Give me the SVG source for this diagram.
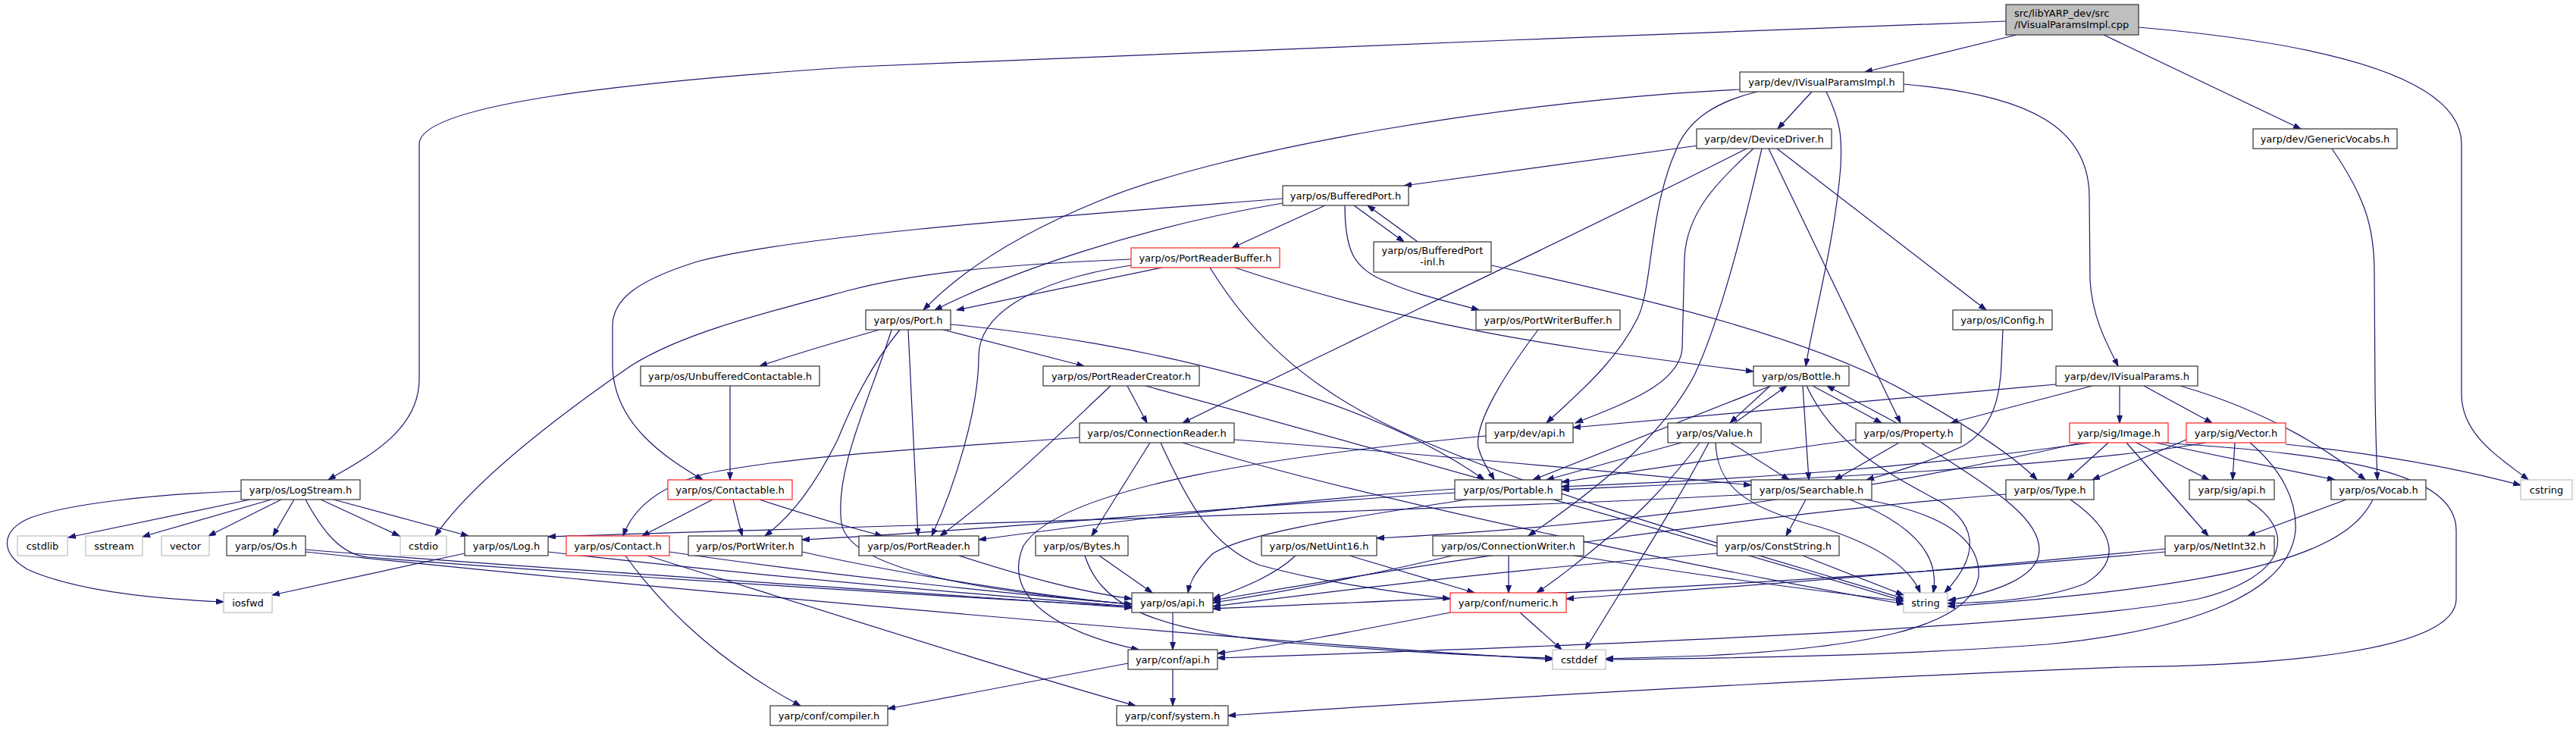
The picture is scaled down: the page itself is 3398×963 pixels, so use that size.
<svg xmlns="http://www.w3.org/2000/svg" width="3398" height="963" viewBox="0 0 3398 963">
<style>
.n rect{fill:#fff;stroke:#333;stroke-width:1.2}
.n.red rect{stroke:#ff2020}
.n.sys rect{stroke:#bfbfbf}
.n.root rect{fill:#bfbfbf}
.n text{font-family:"DejaVu Sans","Liberation Sans",sans-serif;font-size:13px;fill:#000;text-anchor:middle}
.n.root text{text-anchor:start}
#edges path{fill:none;stroke:#191970;stroke-width:1.2;marker-end:url(#ah)}
</style>
<defs>
<marker id="ah" markerUnits="userSpaceOnUse" markerWidth="11" markerHeight="8" refX="10" refY="3.5" orient="auto">
<path d="M0,0 L10,3.5 L0,7 z" fill="#191970" stroke="#191970" stroke-width="1"/>
</marker>
</defs>
<rect width="3398" height="963" fill="#fff"/>
<g id="edges">
<path d="M2660,46 L2460,95"/>
<path d="M2646,28 C2200,45 1400,75 1130,88 C800,110 553,140 553,190 L553,500 C553,570 480,605 433,633"/>
<path d="M2775,46 L3035,170"/>
<path d="M2821,36 C3100,60 3247,110 3247,190 L3247,520 C3247,575 3300,605 3335,633"/>
<path d="M2390,121 L2345,170"/>
<path d="M2409,121 C2428,160 2430,180 2428,220 C2420,320 2392,420 2382,483"/>
<path d="M2511,111 C2680,125 2756,170 2756,260 L2757,370 C2760,420 2780,455 2794,483"/>
<path d="M2295,118 C2000,132 1620,195 1450,265 C1340,310 1265,360 1218,409"/>
<path d="M2318,121 C2260,135 2225,160 2210,200 C2175,280 2180,380 2160,420 C2130,480 2080,520 2040,558"/>
<path d="M2240,192 L1852,245"/>
<path d="M2304,196 C2100,300 1800,440 1560,558"/>
<path d="M2313,196 C2265,240 2225,280 2222,340 L2219,460 C2215,505 2150,530 2078,558"/>
<path d="M2324,196 C2300,300 2270,420 2235,495 C2190,580 2100,650 2016,707"/>
<path d="M2333,196 L2507,558"/>
<path d="M2344,196 L2620,409"/>
<path d="M3076,196 C3120,260 3132,300 3132,360 L3133,520 C3134,580 3135,610 3136,633"/>
<path d="M1786,271 L1852,319"/>
<path d="M1870,319 L1804,271"/>
<path d="M1748,271 L1625,327"/>
<path d="M1692,268 C1500,300 1330,360 1233,409"/>
<path d="M1692,262 C1400,285 1050,310 920,345 C840,370 808,395 808,430 L808,480 C808,560 880,605 927,633"/>
<path d="M1774,271 C1774,330 1785,355 1830,372 C1870,390 1920,400 1951,409"/>
<path d="M1967,350 C2200,400 2400,450 2520,520 C2610,570 2660,605 2687,633"/>
<path d="M1533,353 L1262,409"/>
<path d="M1492,342 C1300,350 1200,362 1120,383 C1000,415 900,440 833,482 C720,560 620,640 574,707"/>
<path d="M1492,350 C1350,372 1291,420 1291,470 C1291,540 1260,640 1229,707"/>
<path d="M1596,353 C1650,440 1720,510 1850,570 C2050,660 2350,740 2512,790"/>
<path d="M1629,353 C1800,410 1950,440 2100,462 C2200,476 2260,484 2313,490"/>
<path d="M1160,435 C1100,452 1040,470 1002,483"/>
<path d="M1244,435 L1430,483"/>
<path d="M1254,428 C1500,450 1800,520 1958,633"/>
<path d="M1187,435 C1150,480 1125,530 1105,580 C1075,640 1045,680 1009,707"/>
<path d="M1198,435 L1211,707"/>
<path d="M1176,435 C1150,520 1100,620 1110,690 C1120,760 1350,785 1493,797"/>
<path d="M963,509 L963,633"/>
<path d="M1465,509 C1400,570 1330,640 1240,707"/>
<path d="M1487,509 L1513,558"/>
<path d="M1511,509 C1700,560 2200,700 2512,793"/>
<path d="M1424,577 C1250,590 1050,600 930,625 C870,642 835,670 822,707"/>
<path d="M1517,584 L1440,707"/>
<path d="M1531,584 C1570,670 1600,720 1660,745 C1750,770 1850,782 1913,790"/>
<path d="M1628,580 C1900,600 2150,625 2310,640"/>
<path d="M1560,584 C1800,660 2300,760 2512,797"/>
<path d="M1960,575 C1700,600 1400,640 1350,720 C1320,790 1400,835 1502,857"/>
<path d="M2335,509 L2282,558"/>
<path d="M2288,558 L2357,509"/>
<path d="M2378,509 L2386,633"/>
<path d="M2391,509 L2482,558"/>
<path d="M2502,558 L2410,509"/>
<path d="M2383,509 C2420,590 2500,630 2560,662 C2620,700 2600,745 2565,782"/>
<path d="M2336,509 L2022,633"/>
<path d="M2283,584 L2360,633"/>
<path d="M2263,584 C2265,640 2300,670 2400,695 C2480,720 2520,750 2533,782"/>
<path d="M2254,584 C2220,650 2150,760 2091,857"/>
<path d="M2218,584 L2040,633"/>
<path d="M2242,584 C2200,640 2150,690 2120,710 C2090,735 2060,760 2027,782"/>
<path d="M2029,435 C1980,500 1945,560 1950,590 C1955,610 1965,622 1971,633"/>
<path d="M2642,435 L2640,480 C2638,540 2620,570 2590,588 C2540,612 2490,625 2462,633"/>
<path d="M2505,584 L2420,633"/>
<path d="M2534,584 C2620,640 2690,680 2690,725 C2690,762 2630,782 2570,792"/>
<path d="M2448,580 C2300,600 2200,615 2060,636"/>
<path d="M2712,507 L2075,564"/>
<path d="M2760,509 L2573,558"/>
<path d="M2796,509 L2796,558"/>
<path d="M2828,509 L2918,558"/>
<path d="M2876,509 C3000,545 3080,600 3120,633"/>
<path d="M2781,584 L2727,633"/>
<path d="M2818,584 L2914,633"/>
<path d="M2805,584 L2913,707"/>
<path d="M2843,584 L3080,633"/>
<path d="M2758,584 C2500,620 2300,632 2060,642"/>
<path d="M2745,584 C2500,640 2200,690 1816,710"/>
<path d="M2852,584 C3100,600 3240,625 3240,700 L3240,790 C3240,860 3000,878 2800,880 C2300,900 1800,932 1620,944"/>
<path d="M2948,584 L2945,633"/>
<path d="M2968,584 C3010,620 3030,660 3028,700 C3020,780 2900,830 2700,850 C2500,865 2300,868 2118,870"/>
<path d="M3015,586 C3150,600 3250,620 3325,640"/>
<path d="M2910,584 C2700,620 2300,635 2060,646"/>
<path d="M2884,580 L2760,633"/>
<path d="M330,659 L90,709"/>
<path d="M358,659 L188,708"/>
<path d="M371,659 L275,707"/>
<path d="M388,659 L360,707"/>
<path d="M423,659 L527,707"/>
<path d="M440,659 L618,707"/>
<path d="M318,648 C200,652 90,665 40,683 C0,700 0,730 36,751 C100,780 200,790 295,794"/>
<path d="M403,659 C425,700 450,732 485,735 C800,760 1300,790 1493,800"/>
<path d="M403,725 C700,750 1200,780 1493,802"/>
<path d="M403,728 C900,780 1700,850 2048,870"/>
<path d="M613,730 L359,785"/>
<path d="M723,728 C1000,760 1300,785 1493,800"/>
<path d="M825,733 C880,810 960,880 1056,931"/>
<path d="M854,733 C1100,810 1350,890 1498,931"/>
<path d="M883,728 C1100,760 1350,785 1493,797"/>
<path d="M940,659 L847,707"/>
<path d="M967,659 L979,707"/>
<path d="M1002,659 C1050,675 1100,690 1164,707"/>
<path d="M2310,652 C2000,670 1300,690 723,708"/>
<path d="M1058,728 C1200,760 1400,790 1493,797"/>
<path d="M1919,645 C1700,660 1450,690 1291,712"/>
<path d="M1919,650 C1600,670 1300,700 1058,712"/>
<path d="M1935,659 C1800,680 1650,700 1600,730 C1580,750 1570,765 1567,782"/>
<path d="M1265,733 C1350,760 1420,780 1493,790"/>
<path d="M1450,733 L1520,782"/>
<path d="M1431,733 C1450,790 1500,830 1700,848 C1850,860 1950,866 2048,868"/>
<path d="M1780,733 L1945,782"/>
<path d="M1709,733 C1680,760 1640,775 1600,790"/>
<path d="M1990,733 L1990,782"/>
<path d="M1916,733 C1800,760 1700,780 1600,795"/>
<path d="M2076,733 C2250,760 2400,780 2511,793"/>
<path d="M2382,659 L2356,707"/>
<path d="M2440,659 C2520,690 2560,730 2550,782"/>
<path d="M2460,659 C2580,680 2612,720 2610,760 C2600,830 2450,855 2250,865 L2118,869"/>
<path d="M2378,733 L2511,785"/>
<path d="M2265,730 C2000,750 1800,775 1600,800"/>
<path d="M2731,659 C2790,700 2800,740 2750,770 C2700,790 2620,795 2569,796"/>
<path d="M2646,652 C2300,680 1900,740 1600,792"/>
<path d="M2964,659 C3030,700 3020,760 2900,790 C2700,830 2000,855 1606,868"/>
<path d="M3095,659 L2965,707"/>
<path d="M3130,659 C3100,720 3000,770 2569,800"/>
<path d="M2856,724 C2500,760 2200,780 2066,790"/>
<path d="M2856,728 C2400,770 1900,790 1600,803"/>
<path d="M1547,808 L1547,857"/>
<path d="M2005,808 L2060,857"/>
<path d="M1913,808 C1800,830 1700,850 1606,862"/>
<path d="M1488,875 L1171,935"/>
<path d="M1547,883 L1547,931"/>
</g>
<g id="n_root" class="n root"><rect x="2646" y="6" width="175" height="40"/><text x="2657" y="22">src/libYARP_dev/src</text><text x="2657" y="37">/IVisualParamsImpl.cpp</text></g>
<g id="n_ivpi" class="n"><rect x="2295" y="95" width="216" height="26"/><text x="2403" y="112.5">yarp/dev/IVisualParamsImpl.h</text></g>
<g id="n_dd" class="n"><rect x="2238" y="170" width="178" height="26"/><text x="2327" y="187.5">yarp/dev/DeviceDriver.h</text></g>
<g id="n_gv" class="n"><rect x="2972" y="170" width="190" height="26"/><text x="3067" y="187.5">yarp/dev/GenericVocabs.h</text></g>
<g id="n_bp" class="n"><rect x="1692" y="245" width="166" height="26"/><text x="1775" y="262.5">yarp/os/BufferedPort.h</text></g>
<g id="n_bpi" class="n"><rect x="1812" y="319" width="155" height="40"/><text x="1889.5" y="335">yarp/os/BufferedPort</text><text x="1889.5" y="350">-inl.h</text></g>
<g id="n_prb" class="n red"><rect x="1492" y="327" width="196" height="26"/><text x="1590" y="344.5">yarp/os/PortReaderBuffer.h</text></g>
<g id="n_port" class="n"><rect x="1142" y="409" width="112" height="26"/><text x="1198" y="426.5">yarp/os/Port.h</text></g>
<g id="n_pwb" class="n"><rect x="1947" y="409" width="190" height="26"/><text x="2042" y="426.5">yarp/os/PortWriterBuffer.h</text></g>
<g id="n_iconfig" class="n"><rect x="2576" y="409" width="131" height="26"/><text x="2641.5" y="426.5">yarp/os/IConfig.h</text></g>
<g id="n_uc" class="n"><rect x="845" y="483" width="236" height="26"/><text x="963" y="500.5">yarp/os/UnbufferedContactable.h</text></g>
<g id="n_prc" class="n"><rect x="1376" y="483" width="206" height="26"/><text x="1479" y="500.5">yarp/os/PortReaderCreator.h</text></g>
<g id="n_bottle" class="n"><rect x="2313" y="483" width="126" height="26"/><text x="2376" y="500.5">yarp/os/Bottle.h</text></g>
<g id="n_ivp" class="n"><rect x="2712" y="483" width="187" height="26"/><text x="2805.5" y="500.5">yarp/dev/IVisualParams.h</text></g>
<g id="n_cr" class="n"><rect x="1424" y="558" width="204" height="26"/><text x="1526" y="575.5">yarp/os/ConnectionReader.h</text></g>
<g id="n_devapi" class="n"><rect x="1960" y="558" width="115" height="26"/><text x="2017.5" y="575.5">yarp/dev/api.h</text></g>
<g id="n_value" class="n"><rect x="2200" y="558" width="123" height="26"/><text x="2261.5" y="575.5">yarp/os/Value.h</text></g>
<g id="n_property" class="n"><rect x="2448" y="558" width="139" height="26"/><text x="2517.5" y="575.5">yarp/os/Property.h</text></g>
<g id="n_image" class="n red"><rect x="2730" y="558" width="130" height="26"/><text x="2795" y="575.5">yarp/sig/Image.h</text></g>
<g id="n_vector" class="n red"><rect x="2884" y="558" width="131" height="26"/><text x="2949.5" y="575.5">yarp/sig/Vector.h</text></g>
<g id="n_logstream" class="n"><rect x="318" y="633" width="157" height="26"/><text x="396.5" y="650.5">yarp/os/LogStream.h</text></g>
<g id="n_contactable" class="n red"><rect x="881" y="633" width="164" height="26"/><text x="963" y="650.5">yarp/os/Contactable.h</text></g>
<g id="n_portable" class="n"><rect x="1919" y="633" width="141" height="26"/><text x="1989.5" y="650.5">yarp/os/Portable.h</text></g>
<g id="n_searchable" class="n"><rect x="2310" y="633" width="159" height="26"/><text x="2389.5" y="650.5">yarp/os/Searchable.h</text></g>
<g id="n_type" class="n"><rect x="2646" y="633" width="116" height="26"/><text x="2704" y="650.5">yarp/os/Type.h</text></g>
<g id="n_sigapi" class="n"><rect x="2888" y="633" width="112" height="26"/><text x="2944" y="650.5">yarp/sig/api.h</text></g>
<g id="n_vocab" class="n"><rect x="3075" y="633" width="125" height="26"/><text x="3137.5" y="650.5">yarp/os/Vocab.h</text></g>
<g id="n_cstring" class="n sys"><rect x="3325" y="633" width="68" height="26"/><text x="3359" y="650.5">cstring</text></g>
<g id="n_cstdlib" class="n sys"><rect x="23" y="707" width="66" height="26"/><text x="56" y="724.5">cstdlib</text></g>
<g id="n_sstream" class="n sys"><rect x="113" y="707" width="75" height="26"/><text x="150.5" y="724.5">sstream</text></g>
<g id="n_vec" class="n sys"><rect x="213" y="707" width="63" height="26"/><text x="244.5" y="724.5">vector</text></g>
<g id="n_os" class="n"><rect x="299" y="707" width="104" height="26"/><text x="351" y="724.5">yarp/os/Os.h</text></g>
<g id="n_cstdio" class="n sys"><rect x="528" y="707" width="61" height="26"/><text x="558.5" y="724.5">cstdio</text></g>
<g id="n_log" class="n"><rect x="613" y="707" width="110" height="26"/><text x="668" y="724.5">yarp/os/Log.h</text></g>
<g id="n_contact" class="n red"><rect x="747" y="707" width="136" height="26"/><text x="815" y="724.5">yarp/os/Contact.h</text></g>
<g id="n_portwriter" class="n"><rect x="908" y="707" width="150" height="26"/><text x="983" y="724.5">yarp/os/PortWriter.h</text></g>
<g id="n_portreader" class="n"><rect x="1133" y="707" width="158" height="26"/><text x="1212" y="724.5">yarp/os/PortReader.h</text></g>
<g id="n_bytes" class="n"><rect x="1366" y="707" width="122" height="26"/><text x="1427" y="724.5">yarp/os/Bytes.h</text></g>
<g id="n_netuint16" class="n"><rect x="1664" y="707" width="152" height="26"/><text x="1740" y="724.5">yarp/os/NetUint16.h</text></g>
<g id="n_cw" class="n"><rect x="1890" y="707" width="199" height="26"/><text x="1989.5" y="724.5">yarp/os/ConnectionWriter.h</text></g>
<g id="n_conststring" class="n"><rect x="2265" y="707" width="161" height="26"/><text x="2345.5" y="724.5">yarp/os/ConstString.h</text></g>
<g id="n_netint32" class="n"><rect x="2856" y="707" width="144" height="26"/><text x="2928" y="724.5">yarp/os/NetInt32.h</text></g>
<g id="n_iosfwd" class="n sys"><rect x="295" y="782" width="64" height="26"/><text x="327" y="799.5">iosfwd</text></g>
<g id="n_osapi" class="n"><rect x="1493" y="782" width="107" height="26"/><text x="1546.5" y="799.5">yarp/os/api.h</text></g>
<g id="n_numeric" class="n red"><rect x="1913" y="782" width="153" height="26"/><text x="1989.5" y="799.5">yarp/conf/numeric.h</text></g>
<g id="n_string" class="n sys"><rect x="2511" y="782" width="58" height="26"/><text x="2540" y="799.5">string</text></g>
<g id="n_confapi" class="n"><rect x="1488" y="857" width="118" height="26"/><text x="1547" y="874.5">yarp/conf/api.h</text></g>
<g id="n_cstddef" class="n sys"><rect x="2048" y="857" width="70" height="26"/><text x="2083" y="874.5">cstddef</text></g>
<g id="n_compiler" class="n"><rect x="1016" y="931" width="155" height="26"/><text x="1093.5" y="948.5">yarp/conf/compiler.h</text></g>
<g id="n_system" class="n"><rect x="1473" y="931" width="147" height="26"/><text x="1546.5" y="948.5">yarp/conf/system.h</text></g>
</svg>
